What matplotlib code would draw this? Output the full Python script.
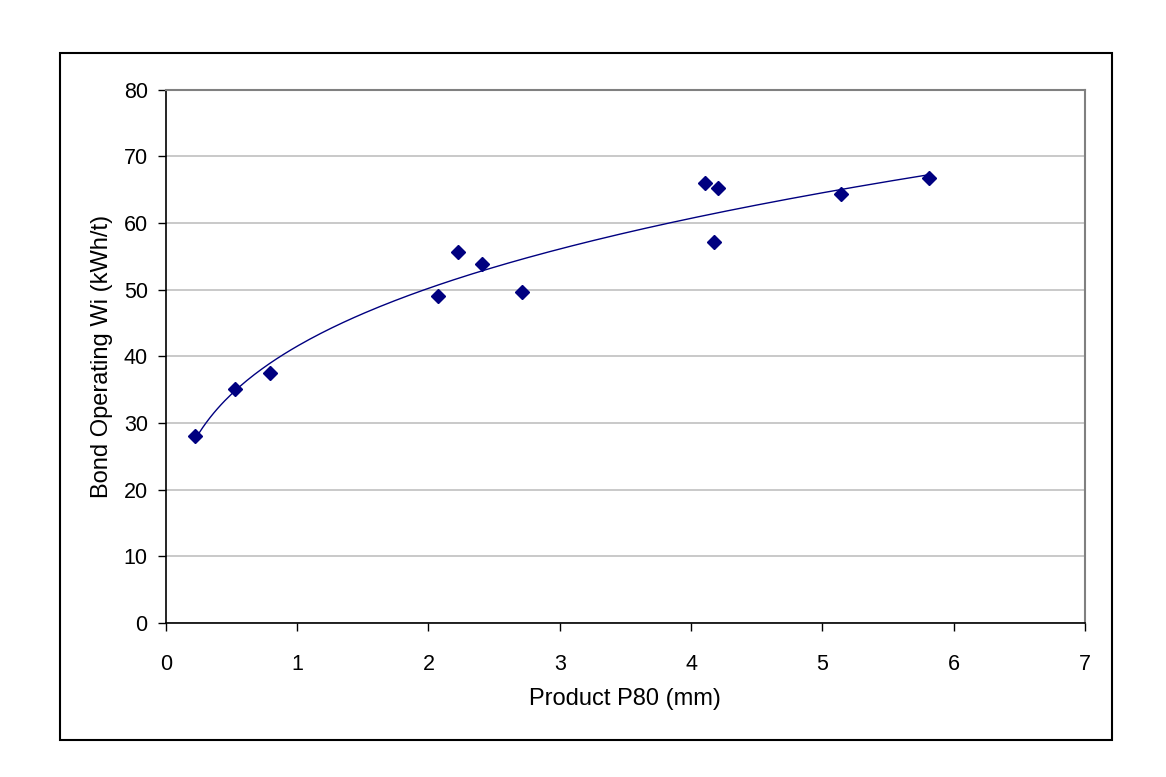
import numpy as np
from matplotlib import pyplot as plt
from matplotlib.patches import Rectangle

plt.rcParams['font.family'] = ['Liberation Sans', 'DejaVu Sans']

# data
p80 = [0.225, 0.528, 0.792, 2.071, 2.226, 2.407, 2.709, 4.108, 4.176, 4.204, 5.14, 5.816]
wi = [28.0, 35.1, 37.5, 49.1, 55.7, 53.9, 49.7, 66.0, 57.1, 65.2, 64.3, 66.7]
xticks = [0, 1, 2, 3, 4, 5, 6, 7]
yticks = [0, 10, 20, 30, 40, 50, 60, 70, 80]

navy = '#000080'

fig = plt.figure(figsize=(11.66, 7.77), dpi=100)
ax = fig.add_axes([0.1422, 0.1982, 0.9305 - 0.1422, 0.8848 - 0.1982])

# power trendline like Excel: fit in log space
b, log_a = np.polyfit(np.log(p80), np.log(wi), 1)
xs = np.linspace(min(p80), max(p80), 200)
ax.plot(xs, np.exp(log_a) * xs ** b, color=navy, lw=1.0, zorder=2)

ax.plot(p80, wi, ls='none', marker='D', ms=7, color=navy, zorder=3)

ax.set_xlim(0, 7)
ax.set_ylim(0, 80)
ax.set_xticks(xticks)
ax.set_yticks(yticks)
ax.yaxis.grid(True, color='#c0c0c0', lw=1.2)
ax.set_axisbelow(True)
ax.tick_params(direction='out', length=6, width=1, labelsize=15.5)
ax.tick_params(axis='x', pad=16)
ax.tick_params(axis='y', pad=7)

for s in ['top', 'right']:
    ax.spines[s].set_color('#808080')
    ax.spines[s].set_linewidth(1.5)
for s in ['left', 'bottom']:
    ax.spines[s].set_color('black')
    ax.spines[s].set_linewidth(1.2)

ax.set_xlabel('Product P80 (mm)', fontsize=17, labelpad=10)
ax.set_ylabel('Bond Operating Wi (kWh/t)', fontsize=17, labelpad=8)

# outer chart border
fig.patches.append(Rectangle((60 / 1166, 37 / 777), 1052 / 1166, 687 / 777,
                             transform=fig.transFigure, fill=False,
                             edgecolor='black', lw=1.5))

fig.savefig('out.png', dpi=100)
